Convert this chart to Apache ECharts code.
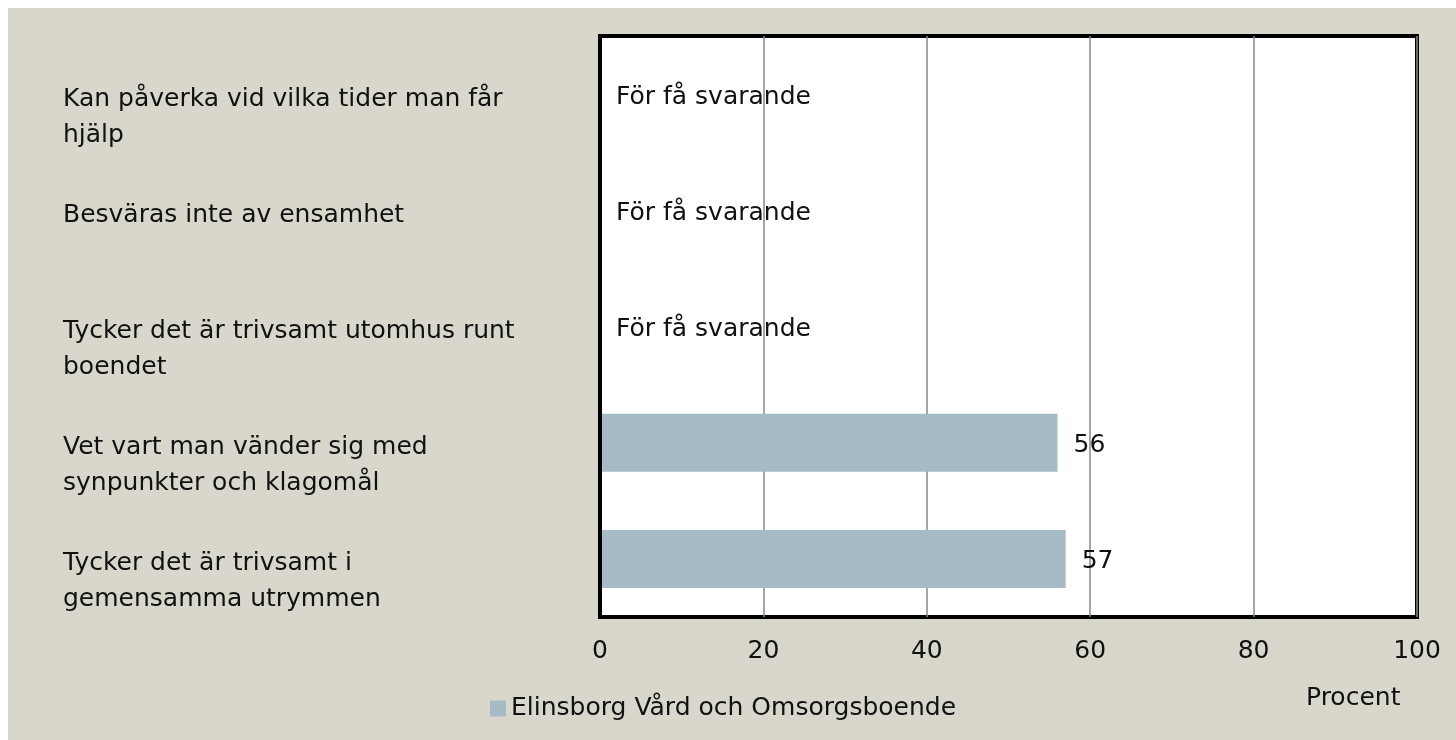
<!DOCTYPE html>
<html>
<head>
<meta charset="utf-8">
<script src="https://cdn.jsdelivr.net/npm/echarts@6/dist/echarts.min.js"></script>
<style>
  html, body { margin: 0; padding: 0; background: #fff; }
  #main { position: absolute; left: 8px; top: 8px; width: 1448px; height: 732px; background: #d9d7cc; }
</style>
</head>
<body>
<div id="main"></div>
<script>
// kategorier, uppifrån och ned
var categories = [
    'Kan påverka vid vilka tider man får\nhjälp',
    'Besväras inte av ensamhet',
    'Tycker det är trivsamt utomhus runt\nboendet',
    'Vet vart man vänder sig med\nsynpunkter och klagomål',
    'Tycker det är trivsamt i\ngemensamma utrymmen'
];
// null = för få svarande
var values = [null, null, null, 56, 57];
var xTicks = [0, 20, 40, 60, 80, 100];
var seriesName = 'Elinsborg Vård och Omsorgsboende';
var tooFewText = 'För få svarande';

var FONT = 'DejaVu Sans';
var FS = 25;
var myChart = echarts.init(document.getElementById('main'));

var barData = [];
for (var i = 0; i < values.length; i++) {
    if (values[i] === null) {
        barData.push({ value: 0, label: { formatter: tooFewText } });
    } else {
        barData.push(values[i]);
    }
}

myChart.setOption({
    animation: false,
    textStyle: { fontFamily: FONT },
    grid: {
        left: 592, right: 39, top: 28, bottom: 123,
        show: true,
        backgroundColor: '#fff',
        borderColor: '#000',
        borderWidth: 4,
        z: 0
    },
    legend: {
        left: 477, top: 683,
        itemWidth: 16, itemHeight: 16,
        itemGap: 6,
        icon: 'rect',
        textStyle: { fontSize: FS, color: '#111', fontFamily: FONT },
        data: [seriesName]
    },
    title: {
        text: 'Procent',
        left: 1293, top: 673,
        textStyle: { fontSize: FS, fontWeight: 'normal', color: '#111', fontFamily: FONT }
    },
    xAxis: {
        type: 'value',
        min: xTicks[0],
        max: xTicks[xTicks.length - 1],
        interval: xTicks[1] - xTicks[0],
        axisLine: { show: false },
        axisTick: { show: false },
        splitLine: { lineStyle: { color: '#888', width: 1.5 } },
        axisLabel: { fontSize: FS, color: '#111', margin: 22, fontFamily: FONT }
    },
    yAxis: {
        type: 'category',
        inverse: true,
        data: categories,
        z: 5,
        axisLine: { show: true, lineStyle: { color: '#000', width: 4 } },
        axisTick: { show: false },
        axisLabel: {
            fontSize: FS, color: '#111', fontFamily: FONT,
            align: 'left', margin: 537,
            verticalAlign: 'top', lineHeight: 36,
            padding: [-13, 0, 0, 0]
        }
    },
    series: [{
        name: seriesName,
        type: 'bar',
        barWidth: 58,
        itemStyle: { color: '#a7bbc6' },
        label: {
            show: true, position: 'right', distance: 16,
            offset: [0, 3],
            fontSize: FS, color: '#111', fontFamily: FONT
        },
        data: barData
    }]
});
window.onresize = myChart.resize;
</script>
</body>
</html>
